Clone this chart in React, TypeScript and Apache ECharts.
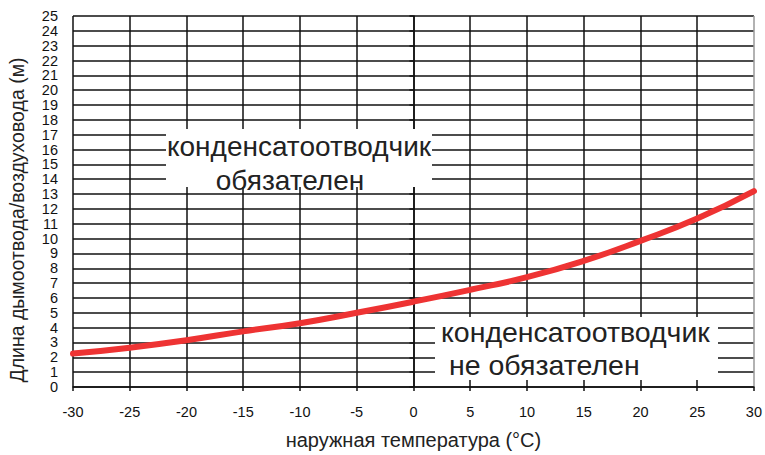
import React, { useEffect, useRef } from "react";
import * as echarts from "echarts";

const temperatures = [-30, -25, -20, -15, -10, -5, 0, 5, 10, 15, 20, 25, 30];
const lengths = [2.25, 2.65, 3.15, 3.75, 4.3, 5.0, 5.75, 6.55, 7.4, 8.5, 9.85, 11.35, 13.2];
const xAxisTitle = "наружная температура (°C)";
const yAxisTitle = "Длина дымоотвода/воздуховода (м)";
const noteRequired = ["конденсатоотводчик", "обязателен"];
const noteNotRequired = ["конденсатоотводчик", "не обязателен"];

const FONT = "Liberation Sans";

export default function App() {
  const ref = useRef<HTMLDivElement>(null);
  useEffect(() => {
    if (!ref.current) return;
    const chart = echarts.init(ref.current, undefined, { renderer: "svg" });
    const vColors = temperatures.map((t, i) => (i === temperatures.length - 1 ? "#999999" : "#111111"));
    chart.setOption({
      animation: false,
      backgroundColor: "#ffffff",
      textStyle: { fontFamily: FONT },
      grid: { left: 73, right: 8, top: 16, bottom: 67, containLabel: false },
      xAxis: {
        type: "value",
        min: -30,
        max: 30,
        interval: 5,
        name: xAxisTitle,
        nameLocation: "middle",
        nameGap: 43,
        nameTextStyle: { fontSize: 20, color: "#222", fontFamily: FONT },
        axisLine: { show: true, lineStyle: { color: "#111", width: 1.5 } },
        axisTick: { show: true, length: 4, lineStyle: { color: "#111", width: 1.5 } },
        axisLabel: { fontSize: 14.5, color: "#111", margin: 17, fontFamily: FONT },
        splitLine: { show: true, lineStyle: { color: vColors, width: 1.5 } },
      },
      yAxis: {
        type: "value",
        min: 0,
        max: 25,
        interval: 1,
        axisLine: { show: true, lineStyle: { color: "#111", width: 1.5 } },
        axisTick: { show: true, length: 4, lineStyle: { color: "#111", width: 1.5 } },
        axisLabel: { fontSize: 14.5, color: "#111", margin: 15, fontFamily: FONT, lineHeight: 14 },
        splitLine: { show: true, lineStyle: { color: "#111", width: 1.5 } },
      },
      series: [
        {
          type: "line",
          data: temperatures.map((t, i) => [t, lengths[i]]),
          smooth: true,
          symbol: "none",
          lineStyle: { color: "#ee3333", width: 6, cap: "round" },
          z: 3,
        },
      ],
      graphic: [
        {
          type: "text",
          x: 17,
          y: 220,
          rotation: Math.PI / 2,
          style: {
            text: yAxisTitle,
            fontSize: 19.5,
            fill: "#222",
            fontFamily: FONT,
            align: "center",
            verticalAlign: "middle",
          },
        },
        {
          type: "rect",
          shape: { x: 166, y: 129, width: 266, height: 58 },
          style: { fill: "#ffffff" },
          z: 10,
        },
        {
          type: "text",
          x: 299,
          y: 146,
          z: 11,
          style: { text: noteRequired[0], fontSize: 28, fill: "#222", fontFamily: FONT, align: "center", verticalAlign: "middle" },
        },
        {
          type: "text",
          x: 290,
          y: 180,
          z: 11,
          style: { text: noteRequired[1], fontSize: 28, fill: "#222", fontFamily: FONT, align: "center", verticalAlign: "middle" },
        },
        {
          type: "rect",
          shape: { x: 435, y: 317, width: 283, height: 63 },
          style: { fill: "#ffffff" },
          z: 10,
        },
        {
          type: "text",
          x: 441,
          y: 332,
          z: 11,
          style: { text: noteNotRequired[0], fontSize: 28.5, fill: "#222", fontFamily: FONT, align: "left", verticalAlign: "middle" },
        },
        {
          type: "text",
          x: 449,
          y: 365,
          z: 11,
          style: { text: noteNotRequired[1], fontSize: 28.5, fill: "#222", fontFamily: FONT, align: "left", verticalAlign: "middle" },
        },
      ],
    });
    return () => chart.dispose();
  }, []);
  return <div ref={ref} style={{ position: "absolute", left: 0, top: 0, width: 765, height: 455 }} />;
}
